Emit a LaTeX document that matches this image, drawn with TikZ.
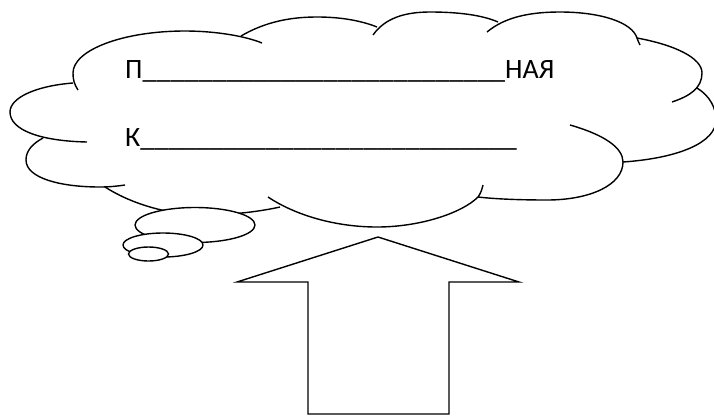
\documentclass[tikz,border=0pt]{standalone}
\usepackage{fontspec}
\setmainfont{Carlito}

\tikzset{
  cloudline/.style={line width=1.4pt},
  bubble/.style={line width=1.4pt, fill=white},
  answer/.style={anchor=base west, inner sep=0pt, font=\fontsize{28}{32}\selectfont}
}
\newcommand{\blanks}[1]{\foreach \k in {1,...,#1}{\_}}

\begin{document}
\begin{tikzpicture}[x=1pt,y=-1pt]
\useasboundingbox (0,0) rectangle (714,416);

            % the cloud, lobe by lobe
            \begin{scope}[cloudline]
                \draw (78,90) .. controls (74,84) and (73,79) .. (73,73)
                    .. controls (73,50) and (123,31) .. (185,31)
                    .. controls (215,31) and (245,36) .. (262,43);
                \draw (241,36) .. controls (265,22) and (290,17) .. (317,17)
                    .. controls (342,17) and (362,21) .. (377,27);
                \draw (373,35) .. controls (385,18) and (405,12) .. (430,12)
                    .. controls (458,12) and (482,15) .. (498,22);
                \draw (487,32) .. controls (505,17) and (530,12) .. (560,12)
                    .. controls (600,12) and (632,22) .. (637,38)
                    .. controls (638,41) and (639,43) .. (640,45);
                \draw (637,38) .. controls (675,45) and (702,58) .. (702,73)
                    .. controls (702,88) and (690,96) .. (672,102);
                \draw (697,88) .. controls (710,96) and (716,108) .. (716,120)
                    .. controls (716,142) and (680,158) .. (623,162);
                \draw (570,125) .. controls (605,135) and (623,148) .. (623,162)
                    .. controls (623,185) and (590,200) .. (547,200)
                    .. controls (520,200) and (495,199) .. (478,197);
                \draw (268,197) .. controls (295,215) and (335,227) .. (377,227)
                    .. controls (420,227) and (462,213) .. (478,197)
                    .. controls (481,193) and (482,189) .. (483,185);
                \draw (105,187) .. controls (130,203) and (165,214) .. (200,215)
                    .. controls (235,215) and (262,211) .. (280,207);
                \draw (43,138) .. controls (32,144) and (26,151) .. (26,160)
                    .. controls (26,178) and (60,187) .. (100,187)
                    .. controls (110,187) and (118,186) .. (125,185);
                \draw (73,83) .. controls (35,86) and (10,98) .. (10,112)
                    .. controls (10,130) and (40,141) .. (87,142);
            \end{scope}

            % thought bubbles
            \draw[bubble] (195,225) ellipse [x radius=60pt, y radius=17.5pt];
            \draw[bubble] (163,245) ellipse [x radius=40pt, y radius=12pt];
            \draw[bubble] (148.5,254) ellipse [x radius=20pt, y radius=7pt];

            \node[answer] (first) at (125,78) {П\blanks{26}НАЯ};
            \node[answer] (second) at (125,146) {К\blanks{27}};

            % the block arrow
            \coordinate (tip) at (378,237);
            \draw[line width=1.4pt, line join=miter] (tip) -- (519,282) -- (449,282) -- (449,414)
                -- (308,414) -- (308,282) -- (237,282) -- cycle;

\end{tikzpicture}
\end{document}
